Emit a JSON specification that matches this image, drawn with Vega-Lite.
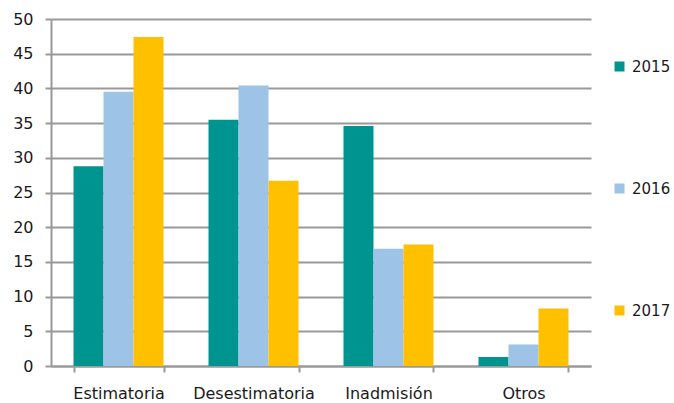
{
  "$schema": "https://vega.github.io/schema/vega-lite/v6.json",
  "width": 540,
  "height": 347,
  "autosize": "none",
  "padding": {"left": 51, "top": 19, "right": 83, "bottom": 37},
  "background": "white",
  "config": {"view": {"stroke": null}, "font": "DejaVu Sans"},
  "data": {"values": [
    {"cat": "Estimatoria", "year": "2015", "v": 28.8},
    {"cat": "Estimatoria", "year": "2016", "v": 39.5},
    {"cat": "Estimatoria", "year": "2017", "v": 47.4},
    {"cat": "Desestimatoria", "year": "2015", "v": 35.5},
    {"cat": "Desestimatoria", "year": "2016", "v": 40.4},
    {"cat": "Desestimatoria", "year": "2017", "v": 26.7},
    {"cat": "Inadmisión", "year": "2015", "v": 34.6},
    {"cat": "Inadmisión", "year": "2016", "v": 16.9},
    {"cat": "Inadmisión", "year": "2017", "v": 17.5},
    {"cat": "Otros", "year": "2015", "v": 1.3},
    {"cat": "Otros", "year": "2016", "v": 3.1},
    {"cat": "Otros", "year": "2017", "v": 8.3}
  ]},
  "mark": {"type": "bar"},
  "encoding": {
    "x": {"field": "cat", "type": "nominal", "sort": null,
      "scale": {"paddingInner": 0.3333, "paddingOuter": 0.1667},
      "axis": {"title": null, "labelAngle": 0, "labelFontSize": 16, "labelColor": "#1a1a1a", "labelPadding": 13,
        "tickBand": "extent", "tickSize": 6, "tickColor": "#999999", "tickWidth": 2, "domainColor": "#999999", "domainWidth": 2}},
    "xOffset": {"field": "year", "type": "nominal", "scale": {"paddingInner": 0, "paddingOuter": 0}},
    "y": {"field": "v", "type": "quantitative",
      "scale": {"domain": [0, 50], "nice": false},
      "axis": {"title": null, "values": [0,5,10,15,20,25,30,35,40,45,50], "labelFontSize": 16, "labelColor": "#1a1a1a", "labelPadding": 12,
        "tickSize": 6, "tickColor": "#999999", "tickWidth": 2, "domain": true, "domainColor": "#999999", "domainWidth": 2,
        "grid": true, "gridColor": "#999999", "gridWidth": 2}},
    "color": {"field": "year", "type": "nominal",
      "scale": {"domain": ["2015", "2016", "2017"], "range": ["#009490", "#9DC3E6", "#FFC000"]},
      "legend": {"title": null, "orient": "none", "legendX": 561, "legendY": 40, "symbolType": "square", "symbolSize": 100,
        "symbolStrokeWidth": 0, "labelFontSize": 15, "labelColor": "#1a1a1a", "rowPadding": 106, "labelOffset": 5}}
  }
}
